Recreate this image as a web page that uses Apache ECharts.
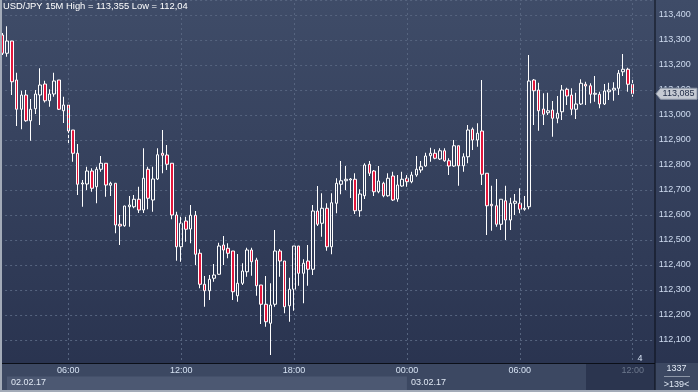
<!DOCTYPE html>
<html><head><meta charset="utf-8">
<script src="https://cdn.jsdelivr.net/npm/echarts@6/dist/echarts.min.js"></script>
<style>html,body{margin:0;padding:0;background:#2b3652;overflow:hidden}#c{width:698px;height:392px}</style>
</head><body><div id="c"></div>
<script>
// ---- data (USD/JPY 15M) ----
const opens = [113.320,113.247,113.296,113.140,113.023,113.080,112.977,113.025,113.080,113.124,
113.057,113.084,113.140,113.017,113.040,112.940,112.847,112.724,112.724,112.776,
112.713,112.783,112.807,112.719,112.727,112.563,112.557,112.633,112.633,112.663,
112.620,112.783,112.660,112.744,112.847,112.840,112.807,112.600,112.473,112.576,
112.544,112.599,112.447,112.323,112.297,112.347,112.363,112.480,112.467,112.456,
112.277,112.327,112.373,112.460,112.420,112.320,112.243,112.167,112.243,112.456,
112.416,112.237,112.303,112.476,112.367,112.416,112.383,112.616,112.567,112.627,
112.473,112.647,112.723,112.737,112.740,112.743,112.617,112.677,112.803,112.776,
112.693,112.727,112.677,112.756,112.664,112.716,112.747,112.733,112.760,112.780,
112.796,112.837,112.847,112.824,112.857,112.817,112.796,112.877,112.797,112.833,
112.943,112.900,112.936,112.767,112.643,112.637,112.563,112.657,112.580,112.647,
112.647,112.623,112.633,113.140,113.100,113.024,113.009,113.020,112.987,113.013,
113.103,113.080,113.023,113.044,113.123,113.117,113.083,113.083,113.044,113.093,
113.100,113.107,113.173,113.183,113.123];
const closes = [113.247,113.296,113.133,113.023,113.080,112.977,113.023,113.084,113.120,113.057,
113.084,113.136,113.023,113.040,112.936,112.847,112.723,112.728,112.776,112.707,
112.783,112.807,112.720,112.727,112.560,112.556,112.636,112.640,112.663,112.620,
112.747,112.667,112.744,112.841,112.839,112.803,112.600,112.473,112.567,112.543,
112.599,112.443,112.323,112.297,112.343,112.360,112.476,112.460,112.447,112.293,
112.327,112.376,112.460,112.413,112.317,112.243,112.173,112.240,112.456,112.416,
112.233,112.303,112.476,112.367,112.407,112.383,112.616,112.563,112.627,112.473,
112.649,112.727,112.737,112.743,112.744,112.617,112.684,112.800,112.767,112.693,
112.736,112.677,112.747,112.660,112.720,112.743,112.733,112.760,112.783,112.793,
112.836,112.847,112.827,112.857,112.817,112.796,112.877,112.797,112.833,112.940,
112.900,112.927,112.763,112.637,112.637,112.563,112.663,112.580,112.647,112.655,
112.623,112.627,113.136,113.097,113.017,113.003,113.017,112.987,113.007,113.100,
113.076,113.023,113.044,113.127,113.116,113.083,113.087,113.044,113.096,113.100,
113.107,113.167,113.183,113.123,113.085];
const lows = [113.240,113.233,113.080,112.956,112.943,112.973,112.897,113.004,112.960,113.050,
113.033,113.073,113.020,112.968,112.888,112.813,112.680,112.633,112.700,112.693,
112.647,112.773,112.673,112.676,112.527,112.480,112.553,112.553,112.627,112.608,
112.608,112.623,112.613,112.740,112.767,112.780,112.583,112.417,112.413,112.493,
112.487,112.400,112.307,112.233,112.260,112.333,112.360,112.400,112.427,112.260,
112.253,112.320,112.353,112.357,112.277,112.164,112.153,112.040,112.233,112.353,
112.207,112.173,112.217,112.317,112.247,112.317,112.360,112.556,112.513,112.457,
112.443,112.607,112.683,112.700,112.668,112.604,112.593,112.664,112.756,112.676,
112.687,112.671,112.673,112.656,112.653,112.713,112.713,112.727,112.753,112.769,
112.793,112.813,112.823,112.820,112.813,112.760,112.793,112.717,112.773,112.807,
112.860,112.873,112.720,112.520,112.537,112.553,112.540,112.500,112.540,112.600,
112.607,112.617,112.623,112.960,112.937,112.960,113.000,112.913,112.967,112.980,
113.040,113.000,112.984,113.040,113.040,113.047,113.053,113.027,113.040,113.060,
113.057,113.080,113.156,113.093,113.073];
const highs = [113.328,113.355,113.296,113.169,113.097,113.100,113.064,113.100,113.187,113.137,
113.103,113.169,113.140,113.073,113.049,112.940,112.884,112.740,112.793,112.787,
112.793,112.836,112.807,112.733,112.727,112.600,112.637,112.676,112.680,112.713,
112.867,112.793,112.793,112.867,112.940,112.880,112.807,112.613,112.593,112.593,
112.640,112.616,112.463,112.356,112.360,112.404,112.489,112.516,112.487,112.456,
112.444,112.407,112.469,112.469,112.429,112.320,112.356,112.327,112.540,112.464,
112.416,112.349,112.476,112.476,112.423,112.480,112.640,112.716,112.687,112.647,
112.687,112.747,112.816,112.796,112.748,112.767,112.703,112.807,112.816,112.780,
112.796,112.733,112.767,112.773,112.760,112.773,112.760,112.773,112.836,112.816,
112.849,112.869,112.863,112.867,112.867,112.827,112.900,112.877,112.847,112.960,
112.950,112.967,113.140,112.767,112.717,112.744,112.663,112.717,112.669,112.684,
112.707,112.676,113.240,113.144,113.129,113.087,113.089,113.056,113.076,113.120,
113.109,113.107,113.089,113.143,113.133,113.127,113.156,113.093,113.124,113.129,
113.131,113.180,113.244,113.189,113.149];
const dateLabels = ['02.02.17', '03.02.17'];
const labelTimes = ['00:00', '06:00', '12:00', '18:00'];
const titleText = 'USD/JPY 15M High = 113,355 Low = 112,04';
const startMinutes = 2 * 60 + 30;   // first bar 02:30
const stepMinutes = 15;
const emptySlots = 4;               // free space right of last bar

const pad = n => (n < 10 ? '0' : '') + n;
const cats = [];
for (let i = 0; i < opens.length; i++) {
  const t = startMinutes + stepMinutes * i;
  const day = t >= 1440 ? dateLabels[1] : dateLabels[0];
  const m = t % 1440;
  cats.push(day + ' ' + pad(Math.floor(m / 60)) + ':' + pad(m % 60));
}
for (let k = 0; k < emptySlots; k++) cats.push('empty' + k);
const ohlc = opens.map((o, i) => [o, closes[i], lows[i], highs[i]]);
const timeOf = c => c.split(' ')[1];
const gridCats = cats.filter(c => labelTimes.includes(timeOf(c)));
const lastIdx = opens.length - 1;

const FONT = '"Liberation Sans", Arial, sans-serif';
const fmt = v => v.toFixed(3).replace('.', ',');

const chart = echarts.init(document.getElementById('c'));
const option = {
  animation: false,
  backgroundColor: new echarts.graphic.LinearGradient(0, 0, 0, 1, [
    { offset: 0, color: '#3f4c68' }, { offset: 1, color: '#28324e' }]),
  title: { text: titleText, left: 3, top: 2, padding: 0,
    textStyle: { color: '#ffffff', fontSize: 9.4, fontWeight: 'normal', fontFamily: FONT } },
  grid: { left: 0.1, right: 44.2, top: 0, bottom: 27, containLabel: false },
  xAxis: {
    type: 'category', data: cats, boundaryGap: true, z: 10,
    axisLine: { show: false }, axisTick: { show: false }, splitLine: { show: false },
    axisLabel: {
      margin: 1, fontSize: 9, color: '#d6e2f3', fontFamily: FONT,
      interval: (idx, val) => labelTimes.includes(timeOf(val)),
      formatter: (val, idx) => idx === lastIdx ? '{g|' + timeOf(val) + '}' : timeOf(val),
      rich: { g: { color: '#6d788d', fontSize: 9, fontFamily: FONT } }
    }
  },
  yAxis: {
    type: 'value', position: 'right', min: 112.0, max: 113.46, interval: 0.1,
    axisLine: { show: false }, axisTick: { show: false },
    axisLabel: { margin: 5, fontSize: 9, color: '#cfdcf0', fontFamily: FONT,
      showMinLabel: false, showMaxLabel: false, formatter: fmt },
    splitLine: { lineStyle: { color: '#56647f', type: [2, 3], width: 1 } }
  },
  series: [
    { type: 'line', data: [], z: 1, silent: true,
      markLine: { silent: true, symbol: ['none', 'none'], label: { show: false }, animation: false,
        lineStyle: { color: '#56647f', type: [2, 3], width: 1 },
        emphasis: { disabled: true },
        data: gridCats.map(c => ({ xAxis: c })) } },
    { type: 'candlestick', data: ohlc, z: 2, silent: true, barWidth: 3,
      itemStyle: { color: 'rgba(0,0,0,0)', color0: '#e3163c',
        borderColor: '#ffffff', borderColor0: '#ffffff', borderWidth: 1 } }
  ]
};
chart.setOption(option);

// decorations positioned from the chart's own scales
const dayIdx = cats.findIndex(c => c.startsWith(dateLabels[1]));
const xDay = chart.convertToPixel({ xAxisIndex: 0 }, cats[dayIdx]);
const yLast = chart.convertToPixel({ yAxisIndex: 0 }, closes[lastIdx]);
const txt = (text, x, y, fill, align, size) => ({ type: 'text', z: 12, silent: true,
  style: { text, x, y, fill, align: align || 'left', verticalAlign: 'middle',
    font: (size || 9) + 'px ' + FONT } });
chart.setOption({
  graphic: [
    { type: 'rect', z: 5, silent: true, shape: { x: 0, y: 363, width: 698, height: 29 }, style: { fill: '#3c4862' } },
    { type: 'rect', z: 6, silent: true, shape: { x: 7, y: 376.5, width: xDay - 7, height: 13.5 }, style: { fill: '#4c5872' } },
    { type: 'rect', z: 6, silent: true, shape: { x: 586, y: 364, width: 69, height: 26 }, style: { fill: '#2b354f' } },
    { type: 'rect', z: 7, silent: true, shape: { x: 2, y: 363, width: 653, height: 1 }, style: { fill: '#0b0f18' } },
    { type: 'rect', z: 7, silent: true, shape: { x: 654.5, y: 0, width: 1, height: 390 }, style: { fill: '#0b0f18' } },
    { type: 'rect', z: 8, silent: true, shape: { x: 0, y: 390, width: 698, height: 2 }, style: { fill: '#a3abb8' } },
    { type: 'rect', z: 8, silent: true, shape: { x: 0, y: 0, width: 2, height: 392 }, style: { fill: '#a3abb8' } },
    txt(dateLabels[0], 11, 383, '#dfe7f3'),
    txt(dateLabels[1], xDay + 4, 383, '#dfe7f3'),
    txt('1337', 676.5, 368.5, '#e0e8f4', 'center'),
    { type: 'rect', z: 12, silent: true, shape: { x: 664, y: 376, width: 26, height: 1 }, style: { fill: '#8d97a8' } },
    txt('>139<', 676.5, 384.5, '#e0e8f4', 'center'),
    txt('4', 640, 358.5, '#d6e2f3', 'center'),
    { type: 'polygon', z: 14, silent: true,
      shape: { points: [[656, yLast], [660.5, yLast - 5.5], [697, yLast - 5.5], [697, yLast + 5.5], [660.5, yLast + 5.5]] },
      style: { fill: '#c5cad3', stroke: '#8f98a8', lineWidth: 1 } },
    { type: 'text', z: 15, silent: true,
      style: { text: fmt(closes[lastIdx]), x: 678.5, y: yLast, fill: '#1d2943', align: 'center',
        verticalAlign: 'middle', font: '9px ' + FONT } }
  ]
});
</script></body></html>
